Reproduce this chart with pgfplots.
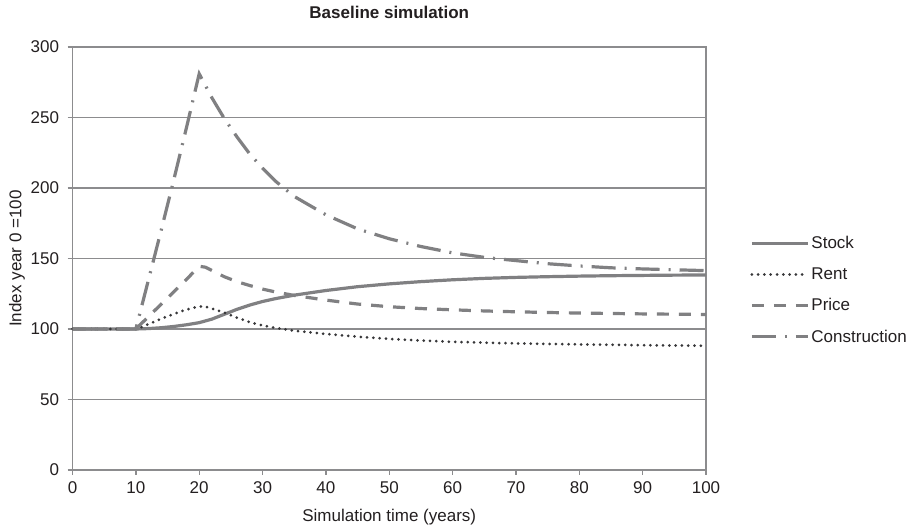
\documentclass[border=0pt]{standalone}
\usepackage{pgfplots}
\pgfplotsset{compat=1.18}
\usepackage{fontspec}
\setmainfont{Liberation Sans}
\definecolor{linegray}{RGB}{128,128,130}
\definecolor{gridgray}{RGB}{140,140,142}
\definecolor{rentgray}{RGB}{55,55,57}
\definecolor{textgray}{RGB}{35,31,32}

\pgfplotstableread{
x y
0 100
10 100
12 100.3
14 100.9
16 101.8
18 103.0
20 104.5
22 107.0
24 110.5
26 114.0
28 117.0
30 119.5
32 121.5
35 124.0
40 127.3
45 130.0
50 132.0
55 133.6
60 134.9
65 135.9
70 136.6
75 137.1
80 137.5
85 137.8
90 138.0
95 138.2
100 138.3
}\stock

\pgfplotstableread{
x y
0 100
10 100
11 101.5
12 103.5
14 107.2
16 110.7
18 113.8
20 116.0
21 115.8
22 114.5
24 111.5
26 108.0
28 104.8
30 102.5
32 100.8
35 98.8
40 96.5
45 94.5
50 93.0
55 91.8
60 90.9
65 90.3
70 89.8
75 89.4
80 89.1
85 88.8
90 88.5
95 88.3
100 88.1
}\rent

\pgfplotstableread{
x y
0 100
10 100
12 108.8
14 117.6
16 126.4
18 135.2
20 144.5
21 143.8
22 141.5
24 137.0
26 133.5
28 130.8
30 128.3
32 126.3
35 123.8
40 120.5
45 117.7
50 115.8
55 114.5
60 113.6
65 112.8
70 112.2
75 111.7
80 111.3
85 111.0
90 110.7
95 110.5
100 110.3
}\price

\pgfplotstableread{
x y
0 100
10 100
12 135
14 170
16 206
18 243
20 281
22 264
24 249
26 236
28 224
30 214
32 205
35 194
40 181
45 171
50 164
55 158.5
60 154
65 150.8
70 148.5
75 146.3
80 144.7
85 143.4
90 142.6
95 142.0
100 141.4
}\construction

\begin{document}
\begin{tikzpicture}[x=1pt,y=1pt]
\path[use as bounding box] (0,0) rectangle (910,529);
\begin{axis}[
  at={(72.5pt,59pt)}, anchor=south west,
  scale only axis, width=633.5pt, height=423pt,
  xmin=0, xmax=100, ymin=0, ymax=300,
  xtick={0,10,...,100}, ytick={0,50,...,300},
  xtick pos=bottom, ytick pos=left,
  tick align=outside, major tick length=5pt,
  ymajorgrids,
  grid style={gridgray, line width=1.8pt},
  axis line style={gridgray, line width=1.8pt},
  every tick/.style={gridgray, line width=1.3pt},
  /pgf/number format/assume math mode=true,
  tick label style={font=\fontsize{17}{19}\selectfont, text=textgray},
  yticklabel style={xshift=-5pt},
  xticklabel style={yshift=-3pt},
  label style={font=\fontsize{17}{19}\selectfont, text=textgray},
  every axis title/.style={font=\fontsize{17}{19}\selectfont\bfseries, text=textgray,
     at={(axis description cs:0.5,1.0816)}, anchor=center},
  title={Baseline simulation},
  xlabel={Simulation time (years)},
  ylabel={Index year 0 =100},
  xlabel style={at={(axis description cs:0.5,-0.111)}, anchor=center},
  ylabel style={at={(axis description cs:-0.0876,0.5)}, anchor=center},
  legend style={at={(axis description cs:1.0695,0.557)}, anchor=north west,
     draw=none, fill=none, font=\fontsize{17}{19}\selectfont, text=textgray,
     row sep=13.5pt, inner sep=0pt,
     nodes={inner sep=2pt}},
  legend cell align=left,
  legend image code/.code={\draw[#1] (0pt,0pt) -- (56pt,0pt);},
  clip=false,
]
\addplot[linegray, line width=3.2pt] table {\stock};
\addlegendentry{Stock}
\addplot[rentgray, line width=3pt, line cap=round, dash pattern=on 0pt off 6.3pt] table {\rent};
\addlegendentry{Rent}
\addplot[linegray, line width=3.2pt, dash pattern=on 12pt off 10pt] table {\price};
\addlegendentry{Price}
\addplot[linegray, line width=3.2pt, dash pattern=on 24pt off 9pt on 2pt off 9pt] table {\construction};
\addlegendentry{Construction}
\end{axis}
\end{tikzpicture}
\end{document}
